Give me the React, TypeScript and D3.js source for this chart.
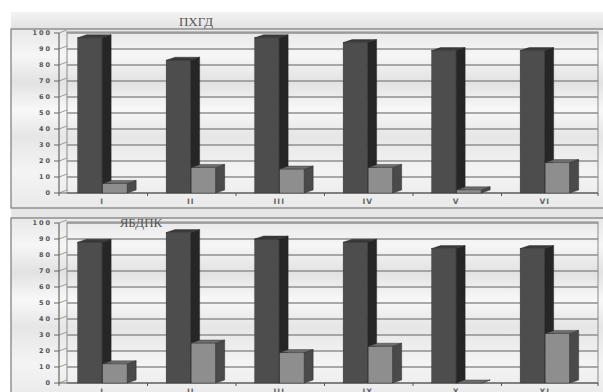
import React from "react";
import * as d3 from "d3";

const categoriesTop = ["I", "II", "III", "IV", "V", "VI"];
const categoriesBottom = ["I", "II", "III", "IX", "X", "XI"];
const topDark = [97, 83, 97, 94, 89, 89];
const topLight = [6, 16, 15, 16, 2, 19];
const bottomDark = [88, 94, 90, 88, 84, 84];
const bottomLight = [12, 25, 19, 23, 0, 31];
const yTicks = [0, 10, 20, 30, 40, 50, 60, 70, 80, 90, 100];
const titleTop = "ПХГД";
const titleBottom = "ЯБДПК";

const W = 603;
const H = 392;

type PanelProps = {
  id: string;
  title: string;
  titleX: number;
  titleY: number;
  cats: string[];
  dark: number[];
  light: number[];
  frameTop: number;
  frameBottom: number;
  y100: number;
  y0: number;
};

function Panel(p: PanelProps) {
  const axisX = 59;
  const wallX = 67;
  const right = 598;
  const dx = 9;
  const dy = 3;
  const y = d3.scaleLinear().domain([0, 100]).range([p.y0, p.y100]);
  const x = d3.scaleBand<string>().domain(p.cats).range([wallX, right]).padding(0);
  const bw = x.bandwidth();
  const inner = d3
    .scaleBand<string>()
    .domain(["dark", "light"])
    .range([bw * 0.12, bw * 0.68])
    .paddingInner(0.02);
  const barW = inner.bandwidth();

  const bar = (x0: number, v: number, front: string, side: string, top: string, key: string) => {
    const yt = y(v);
    const yb = y(0);
    return (
      <g key={key}>
        <rect x={x0} y={yt} width={barW} height={Math.max(0, yb - yt)} fill={front} stroke="#333" strokeWidth={0.4} />
        <polygon
          points={`${x0 + barW},${yt} ${x0 + barW + dx},${yt - dy} ${x0 + barW + dx},${yb - dy} ${x0 + barW},${yb}`}
          fill={side}
          stroke="#222"
          strokeWidth={0.4}
        />
        <polygon
          points={`${x0},${yt} ${x0 + dx},${yt - dy} ${x0 + barW + dx},${yt - dy} ${x0 + barW},${yt}`}
          fill={top}
          stroke="#222"
          strokeWidth={0.4}
        />
      </g>
    );
  };

  return (
    <g>
      <rect
        x={11}
        y={p.frameTop}
        width={W - 11 + 2}
        height={p.frameBottom - p.frameTop}
        fill={`url(#bg${p.id})`}
        stroke="#7a7a7a"
        strokeWidth={1.2}
      />
      <rect x={wallX} y={p.y100 - 1} width={right - wallX} height={p.y0 - p.y100 + 1} fill="none" stroke="#8a8a8a" strokeWidth={1} />
      {yTicks.map((t) => (
        <g key={t}>
          <line x1={axisX} x2={wallX} y1={y(t)} y2={y(t) - dy} stroke="#9a9a9a" strokeWidth={1} />
          <line x1={wallX} x2={right} y1={y(t)} y2={y(t)} stroke="#8f8f8f" strokeWidth={1.4} />
          <line x1={axisX - 5} x2={axisX} y1={y(t)} y2={y(t)} stroke="#666" strokeWidth={1} />
          <text
            x={axisX - 7}
            y={y(t)}
            dy="0.35em"
            textAnchor="end"
            fontFamily="DejaVu Sans, sans-serif"
            fontWeight="bold"
            fontSize={6.5}
            fill="#555"
            letterSpacing={2}
          >
            {t}
          </text>
        </g>
      ))}
      <line x1={axisX} x2={axisX} y1={p.y100} y2={p.y0} stroke="#666" strokeWidth={1.2} />
      <line x1={axisX} x2={right} y1={p.y0} y2={p.y0} stroke="#666" strokeWidth={1.2} />
      {p.cats.map((c, i) => (
        <line key={"t" + i} x1={(x(c) ?? 0) - 8} x2={(x(c) ?? 0) - 8} y1={p.y0} y2={p.y0 + 3} stroke="#555" strokeWidth={1} />
      ))}
      <line x1={right} x2={right} y1={p.y0} y2={p.y0 + 3} stroke="#555" strokeWidth={1} />
      {p.cats.map((c, i) => {
        const x0 = x(c) ?? 0;
        return (
          <g key={c + i}>
            {bar(x0 + (inner("dark") ?? 0), p.dark[i], "#4d4d4d", "#262626", "#3a3a3a", "d")}
            {bar(x0 + (inner("light") ?? 0), p.light[i], "#8e8e8e", "#4a4a4a", "#6e6e6e", "l")}
            <text
              x={x0 + bw / 2 - 9}
              y={p.y0 + 8}
              dy="0.35em"
              textAnchor="middle"
              fontFamily="DejaVu Sans, sans-serif"
              fontWeight="bold"
              fontSize={7.5}
              fill="#666"
              letterSpacing={1}
            >
              {c}
            </text>
          </g>
        );
      })}
      <text
        x={p.titleX}
        y={p.titleY}
        textAnchor="middle"
        fontFamily="Liberation Serif, serif"
        fontSize={13}
        fill="#555"
      >
        {p.title}
      </text>
    </g>
  );
}

export default function App() {
  const stops = [
    [0, "#e8e8e8"],
    [0.15, "#f6f6f6"],
    [0.3, "#e2e2e2"],
    [0.45, "#f8f8f8"],
    [0.6, "#e6e6e6"],
    [0.8, "#f4f4f4"],
    [1, "#e9e9e9"],
  ];
  return (
    <svg width={W} height={H} style={{ position: "absolute", left: 0, top: 0, background: "#fff" }}>
      <defs>
        {["a", "b"].map((id) => (
          <linearGradient key={id} id={"bg" + id} x1="0" y1="0" x2="0" y2="1">
            {stops.map(([o, c]) => (
              <stop key={String(o)} offset={o as number} stopColor={c as string} />
            ))}
          </linearGradient>
        ))}
        <linearGradient id="band" x1="0" y1="0" x2="0" y2="1">
          <stop offset="0" stopColor="#f3f3f3" />
          <stop offset="1" stopColor="#e2e2e2" />
        </linearGradient>
      </defs>
      <rect x={0} y={0} width={W} height={H} fill="#fff" />
      <rect x={11} y={12} width={W - 11} height={17} fill="url(#band)" />
      <rect x={11} y={208} width={W - 11} height={10} fill="#e6e6e6" />
      <Panel
        id="a"
        title={titleTop}
        titleX={196}
        titleY={26}
        cats={categoriesTop}
        dark={topDark}
        light={topLight}
        frameTop={29}
        frameBottom={208}
        y100={33}
        y0={193}
      />
      <Panel
        id="b"
        title={titleBottom}
        titleX={141}
        titleY={227}
        cats={categoriesBottom}
        dark={bottomDark}
        light={bottomLight}
        frameTop={218}
        frameBottom={400}
        y100={223}
        y0={383}
      />
    </svg>
  );
}
